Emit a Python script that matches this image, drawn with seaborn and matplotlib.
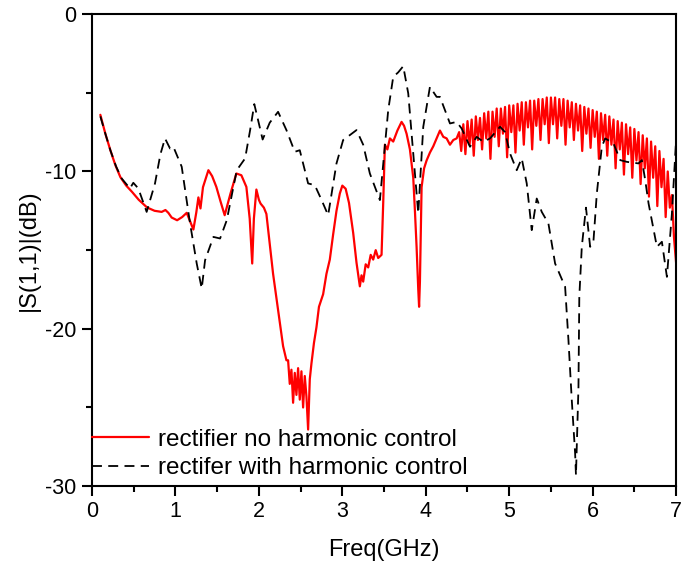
import numpy as np
import pandas as pd
import matplotlib
matplotlib.use("Agg")
import matplotlib.pyplot as plt
import seaborn as sns

sns.set_theme(style="white")
plt.rcParams['font.family'] = ['Liberation Sans', 'DejaVu Sans']
plt.rcParams['axes.unicode_minus'] = False
plt.rcParams['text.color'] = 'black'
plt.rcParams['axes.labelcolor'] = 'black'
plt.rcParams['xtick.color'] = 'black'
plt.rcParams['ytick.color'] = 'black'

# ---- data: rectifier no harmonic control (red) ----
freq_no = [0.10, 0.16, 0.22, 0.28, 0.34, 0.41, 0.48, 0.56, 0.66, 0.75, 0.835, 0.88, 0.915, 0.955, 1.02, 1.08, 1.135,
           1.215, 1.25, 1.275, 1.30, 1.33, 1.395, 1.44, 1.49, 1.54, 1.59, 1.66, 1.73, 1.79, 1.85, 1.89, 1.92, 1.94,
           1.97, 2.00, 2.02, 2.06, 2.09, 2.13, 2.17, 2.23, 2.29, 2.33,
           2.35, 2.37, 2.39, 2.41, 2.43, 2.45, 2.47, 2.49, 2.51, 2.53, 2.55, 2.57, 2.59, 2.61, 2.63,
           2.66, 2.69, 2.72, 2.77, 2.81, 2.85, 2.89, 2.93, 2.97, 3.00, 3.04, 3.08, 3.13, 3.17, 3.21, 3.23, 3.25,
           3.28, 3.31, 3.34, 3.37, 3.40, 3.43, 3.47, 3.49, 3.51, 3.54, 3.57, 3.61, 3.66, 3.71, 3.74, 3.77, 3.81,
           3.85, 3.87, 3.89, 3.91, 3.92, 3.93, 3.95, 3.98, 4.01, 4.05, 4.09, 4.13, 4.17, 4.21, 4.25, 4.29, 4.33,
           4.37,
           4.400, 4.425, 4.450, 4.475, 4.500, 4.525, 4.550, 4.575, 4.600, 4.625, 4.650, 4.675, 4.700, 4.725,
           4.750, 4.775, 4.800, 4.825, 4.850, 4.875, 4.900, 4.925, 4.950, 4.975, 5.000, 5.025, 5.050, 5.075,
           5.100, 5.125, 5.150, 5.175, 5.200, 5.225, 5.250, 5.275, 5.300, 5.325, 5.350, 5.375, 5.400, 5.425,
           5.450, 5.475, 5.500, 5.525, 5.550, 5.575, 5.600, 5.625, 5.650, 5.675, 5.700, 5.725, 5.750, 5.775,
           5.800, 5.825, 5.850, 5.875, 5.900, 5.925, 5.950, 5.975, 6.000, 6.025, 6.050, 6.075, 6.100, 6.125,
           6.150, 6.175, 6.200, 6.225, 6.250, 6.275, 6.300, 6.325, 6.350, 6.375, 6.400, 6.425, 6.450, 6.475,
           6.500, 6.525, 6.550, 6.575, 6.600, 6.625, 6.650, 6.675, 6.700, 6.725, 6.750, 6.775, 6.800, 6.825,
           6.850, 6.875, 6.900, 6.925, 6.950, 6.975, 7.000]
s11_no = [-6.4, -7.6, -8.65, -9.6, -10.36, -10.9, -11.3, -11.8, -12.29, -12.5, -12.57, -12.45, -12.63, -12.93, -13.1,
          -12.9, -12.63, -13.69, -12.6, -11.65, -12.35, -11.0, -9.92, -10.3, -10.98, -11.9, -12.78, -11.4, -10.13,
          -10.24, -10.98, -13.0, -15.85, -13.0, -11.15, -11.8, -12.04, -12.3, -12.7, -14.6, -16.5, -18.8, -21.1,
          -22.0,
          -22.0, -23.5, -22.6, -24.7, -22.8, -24.2, -22.5, -24.5, -22.7, -25.0, -23.0, -24.3, -26.4, -23.2, -22.2,
          -20.9, -19.9, -18.6, -17.8, -16.5, -15.6, -14.0, -12.5, -11.4, -10.9, -11.1, -12.0, -13.9, -15.8, -17.3,
          -16.6, -17.0, -15.9, -16.1, -15.3, -15.6, -15.0, -15.5, -15.3, -12.0, -8.3, -8.6, -7.9, -8.1, -7.4,
          -6.85, -7.1, -7.6, -8.6, -10.4, -12.5, -14.8, -17.5, -18.6, -17.0, -11.0, -9.8, -9.3, -8.8, -8.4, -7.9,
          -7.4, -7.8, -7.9, -8.3, -8.0, -7.9,
          -7.5, -8.7, -7.0, -8.9, -6.8, -8.3, -6.7, -9.0, -6.5, -8.0, -6.6, -8.6, -6.3, -7.9,
          -6.2, -9.2, -6.2, -7.8, -6.0, -8.4, -6.0, -7.6, -5.9, -9.1, -5.8, -7.5, -5.8, -8.8,
          -5.7, -7.4, -5.6, -8.3, -5.6, -7.2, -5.5, -8.6, -5.5, -7.1, -5.4, -8.0, -5.4, -7.0,
          -5.3, -8.2, -5.3, -7.0, -5.3, -7.9, -5.4, -7.1, -5.4, -8.3, -5.5, -7.2, -5.6, -8.0,
          -5.7, -7.4, -5.8, -8.7, -5.9, -7.6, -6.0, -8.5, -6.1, -7.8, -6.2, -9.2, -6.3, -8.0,
          -6.4, -9.0, -6.5, -8.3, -6.7, -9.8, -6.8, -8.6, -6.9, -10.2, -7.0, -8.9, -7.2, -10.4,
          -7.3, -9.3, -7.5, -10.8, -7.7, -9.8, -7.9, -11.6, -8.1, -10.4, -8.4, -12.2, -8.7, -11.0,
          -9.2, -12.9, -10.0, -12.3, -11.5, -14.2, -15.8]

# ---- data: rectifer with harmonic control (black dashed) ----
freq_hc = [0.10, 0.16, 0.22, 0.29, 0.356, 0.455, 0.495, 0.555, 0.655, 0.755, 0.82, 0.875, 0.935, 0.975, 1.075,
           1.175, 1.255, 1.315, 1.355, 1.455, 1.535, 1.615, 1.735, 1.835, 1.895, 1.945, 2.045, 2.13, 2.23, 2.33,
           2.43, 2.49, 2.59, 2.67, 2.75, 2.83, 2.93, 3.01, 3.09, 3.17, 3.25, 3.33, 3.45, 3.55, 3.61, 3.67, 3.73,
           3.79, 3.85, 3.91, 3.97, 4.05, 4.13, 4.17, 4.29, 4.37, 4.43, 4.53, 4.61, 4.69, 4.77, 4.89, 4.95, 5.01,
           5.09, 5.15, 5.21, 5.27, 5.33, 5.39, 5.47, 5.55, 5.67, 5.71, 5.75, 5.79, 5.80, 5.83, 5.84, 5.87, 5.92,
           5.97, 6.01, 6.05, 6.11, 6.15, 6.25, 6.33, 6.41, 6.55, 6.59, 6.63, 6.67, 6.77, 6.83, 6.89, 6.95, 7.00]
s11_hc = [-6.5, -7.6, -8.65, -9.7, -10.45, -11.08, -10.72, -11.08, -12.57, -10.76, -8.9, -7.9, -8.54, -8.43,
          -9.7, -13.3, -15.85, -17.44, -15.64, -14.16, -14.26, -13.1, -9.92, -9.17, -7.37, -5.72, -7.97, -6.9,
          -6.21, -7.37, -8.75, -8.65, -10.76, -10.87, -11.8, -12.78, -9.49, -8.0, -7.69, -7.37, -8.3, -10.13,
          -11.82, -6.1, -3.99, -3.7, -3.31, -5.04, -8.86, -12.67, -7.16, -4.62, -5.26, -5.26, -6.95, -6.85, -7.27,
          -8.43, -7.8, -8.12, -7.9, -7.16, -7.5, -8.86, -9.92, -9.17, -10.76, -13.73, -11.72, -12.57, -13.31,
          -15.85, -17.33, -20.72, -24.54, -27.93, -29.3, -23.7, -17.97, -14.79, -12.3, -14.79, -14.4, -11.4,
          -8.43, -7.9, -8.22, -9.28, -9.39, -9.49, -9.28, -10.55, -12.03, -14.79, -14.47, -16.7, -12.67, -8.0]

tick_x = [0, 1, 2, 3, 4, 5, 6, 7]
tick_y = [-30, -20, -10, 0]

df_no = pd.DataFrame({"freq": freq_no, "s11": s11_no})
df_hc = pd.DataFrame({"freq": freq_hc, "s11": s11_hc})

fig = plt.figure(figsize=(6.97, 5.64), dpi=100)
ax = fig.add_axes([0.132, 0.138, 0.838, 0.837])

sns.lineplot(data=df_no, x="freq", y="s11", ax=ax, color="#ff0000", linewidth=1.6,
             estimator=None, sort=False, label="rectifier no harmonic control")
sns.lineplot(data=df_hc, x="freq", y="s11", ax=ax, color="black", linewidth=1.3,
             estimator=None, sort=False, linestyle=(0, (5.5, 3.5)), label="rectifer with harmonic control")

ax.set_xlim(0, 7)
ax.set_ylim(-30, 0)
ax.set_xticks(tick_x)
ax.set_yticks(tick_y)
ax.set_xticks([0.5 + t for t in tick_x[:-1]], minor=True)
ax.set_yticks([-25, -15, -5], minor=True)
ax.tick_params(axis="both", which="major", direction="out", length=7, width=1.5, labelsize=15.5,
               bottom=True, left=True, top=False, right=False, colors="black", pad=4)
ax.tick_params(axis="both", which="minor", direction="out", length=4, width=1.5,
               bottom=True, left=True, top=False, right=False, colors="black")
for sp in ax.spines.values():
    sp.set_linewidth(1.5)
    sp.set_color("black")

ax.set_xlabel("Freq(GHz)", fontsize=17, labelpad=12)
ax.set_ylabel("|S(1,1)|(dB)", fontsize=17, labelpad=4)

leg = ax.legend(loc="lower left", bbox_to_anchor=(0.0, 0.015), frameon=False, fontsize=17.5,
                handlelength=2.35, handletextpad=0.35, labelspacing=0.25, borderpad=0, borderaxespad=0)

fig.savefig("out.png", dpi=100)
